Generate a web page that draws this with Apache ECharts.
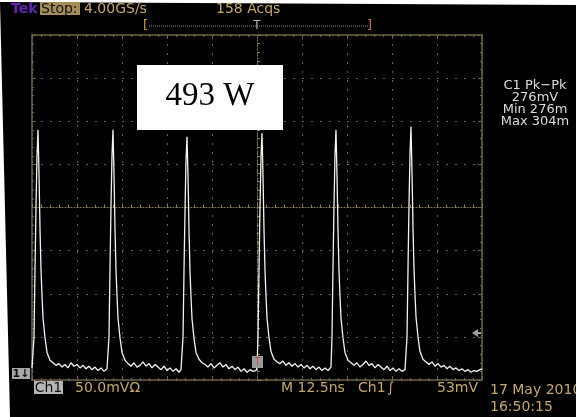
<!DOCTYPE html>
<html lang="en">
<head>
    <meta charset="UTF-8">
    <title>493 W</title>
    <style type="text/css">
        body {
            margin: 0;
            background: #fff;
        }

        #scope {
            width: 576px;
            height: 417px;
        }
    </style>
    <script type="text/javascript" src="https://cdn.jsdelivr.net/npm/echarts@6/dist/echarts.min.js"></script>
</head>
<body>
    <div id="scope"></div>
<script type="text/javascript">
    // trace: time (ns) and Ch1 (mV), 12.5 ns/div, 50 mV/div
    var timeNs = [
        -62.5, -62.22, -61.94, -61.66, -61.39, -61.11, -60.83, -60.55, -60.27, -60.0, -59.72, -59.44, -58.89, -58.33, -57.5, -56.66,
        -55.83, -55.0, -54.17, -53.33, -52.5, -51.67, -50.83, -50.0, -49.17, -48.33, -47.5, -46.67, -45.83, -45.0, -44.17, -43.33, -42.5,
        -41.67, -41.39, -41.11, -40.83, -40.56, -40.28, -40.0, -39.72, -39.44, -39.17, -38.89, -38.61, -38.06, -37.5, -36.67, -35.83,
        -35.0, -34.17, -33.33, -32.5, -31.67, -30.83, -30.0, -29.17, -28.33, -27.5, -26.67, -25.83, -25.0, -24.17, -23.33, -22.5, -21.67,
        -21.11, -20.83, -20.55, -20.27, -20.0, -19.72, -19.44, -19.16, -18.88, -18.61, -18.33, -18.05, -17.5, -16.94, -16.11, -15.27,
        -14.44, -13.61, -12.78, -11.94, -11.11, -10.28, -9.44, -8.61, -7.78, -6.94, -6.11, -5.28, -4.44, -3.61, -2.78, -1.94, -1.11,
        -0.28, 0.0, 0.28, 0.56, 0.83, 1.11, 1.39, 1.67, 1.95, 2.22, 2.5, 2.78, 3.33, 3.89, 4.72, 5.56,
        6.39, 7.22, 8.06, 8.89, 9.72, 10.56, 11.39, 12.22, 13.06, 13.89, 14.72, 15.56, 16.39, 17.22, 18.06, 18.89, 19.72,
        20.27, 20.55, 20.83, 21.11, 21.38, 21.66, 21.94, 22.22, 22.5, 22.77, 23.05, 23.33, 23.88, 24.44, 25.27, 26.11,
        26.94, 27.77, 28.61, 29.44, 30.27, 31.11, 31.94, 32.77, 33.61, 34.44, 35.27, 36.11, 36.94, 37.77, 38.61, 39.44, 40.27,
        41.11, 41.39, 41.67, 41.95, 42.22, 42.5, 42.78, 43.06, 43.34, 43.61, 43.89, 44.17, 44.72, 45.28, 46.11, 46.95,
        47.78, 48.61, 49.44, 50.28, 51.11, 51.94, 52.78, 53.61, 54.44, 55.28, 56.11, 56.94, 57.78, 58.61, 59.44, 60.28, 61.11, 61.94, 62.5
    ];
    var voltMv = [
        -186, -184, -150, -70, 0, 60, 90, 38, -26, -72, -102, -128, -151, -168, -177, -180,
        -183, -181, -185, -182, -186, -180, -184, -182, -186, -183, -187, -184, -188, -185, -189, -186, -190,
        -187, -185, -150, -70, 0, 60, 90, 38, -26, -72, -102, -128, -151, -168, -177, -181,
        -184, -180, -185, -183, -179, -184, -181, -186, -182, -185, -188, -184, -189, -186, -190, -187, -191,
        -188, -186, -150, -72, -5, 55, 82, 35, -28, -74, -104, -129, -152, -168, -176, -180,
        -182, -185, -181, -186, -183, -180, -185, -182, -187, -184, -188, -185, -190, -187, -191, -188, -190,
        -189, -186, -150, -70, -2, 58, 86, 36, -27, -73, -103, -128, -151, -167, -176, -179,
        -181, -178, -183, -180, -184, -181, -185, -182, -186, -183, -187, -184, -188, -185, -189, -186, -189,
        -187, -185, -150, -70, 0, 60, 90, 38, -26, -72, -102, -128, -151, -168, -177, -180,
        -183, -180, -185, -182, -178, -183, -181, -186, -182, -185, -188, -184, -189, -186, -190, -187, -190,
        -188, -186, -150, -70, 2, 62, 94, 40, -25, -71, -101, -127, -150, -167, -176, -179,
        -182, -179, -184, -181, -185, -183, -187, -184, -188, -186, -189, -187, -190, -188, -191, -189, -190, -188, -187
    ];
    var measureLines = ['C1 Pk\u2212Pk', '276mV', 'Min 276m', 'Max 304m'];
    var powerLabel = '493 W';

    var tan = '#c6a866';
    var frame = '#6e6446';
    var font = 'DejaVu Sans';

    var points = [];
    for (var i = 0; i < timeNs.length; i++) {
        points.push([timeNs[i], voltMv[i]]);
    }

    function txt(x, y, s, color, size, align, weight) {
        return {
            type: 'text', x: x, y: y, z: 50,
            style: {
                text: s, fill: color, align: align || 'left', verticalAlign: 'middle',
                font: (weight || 'normal') + ' ' + size + 'px "' + font + '"'
            }
        };
    }

    function borderAxis(pos, isX) {
        var a = {
            gridIndex: 0, type: 'value', position: pos,
            min: isX ? -62.5 : -200, max: isX ? 62.5 : 200, interval: isX ? 12.5 : 50,
            axisLine: { show: true, onZero: false, lineStyle: { color: frame, width: 1.5 } },
            axisTick: { show: true, inside: true, length: 4, lineStyle: { color: frame } },
            minorTick: { show: true, splitNumber: 5, length: 2, lineStyle: { color: frame } },
            axisLabel: { show: false },
            splitLine: { show: false }
        };
        return a;
    }

    var centerX = {
        gridIndex: 1, type: 'value', min: -62.5, max: 62.5, interval: 12.5,
        axisLine: { show: true, onZero: true, lineStyle: { color: '#8c7c52', type: [1, 2] } },
        axisTick: { show: true, inside: true, length: 4, lineStyle: { color: '#8c7c52' } },
        minorTick: { show: true, splitNumber: 5, length: 3, lineStyle: { color: '#8c7c52' } },
        axisLabel: { show: false },
        splitLine: { show: true, lineStyle: { color: '#5e5e5e', type: [2, 7] } }
    };
    var centerY = {
        gridIndex: 1, type: 'value', min: -200, max: 200, interval: 50,
        axisLine: { show: true, onZero: true, lineStyle: { color: '#8c7c52', type: [1, 2] } },
        axisTick: { show: true, inside: true, length: 4, lineStyle: { color: '#8c7c52' } },
        minorTick: { show: true, splitNumber: 5, length: 3, lineStyle: { color: '#8c7c52' } },
        axisLabel: { show: false },
        splitLine: { show: true, lineStyle: { color: '#5e5e5e', type: [2, 7] } }
    };

    var chart = echarts.init(document.getElementById('scope'));
    var option = {
        animation: false,
        backgroundColor: '#000',
        grid: [
            { left: 32, top: 35, width: 450, height: 345 },
            { left: 32, top: 35, width: 450, height: 345 }
        ],
        xAxis: [borderAxis('bottom', true), borderAxis('top', true), centerX],
        yAxis: [borderAxis('left', false), borderAxis('right', false), centerY],
        series: [{
            type: 'line',
            xAxisIndex: 2,
            yAxisIndex: 2,
            data: points,
            showSymbol: false,
            lineStyle: { color: '#f2f2f2', width: 1.3 },
            z: 5
        }],
        graphic: [
            // white edges of the photo
            { type: 'polygon', z: 30, shape: { points: [[0, 0], [576, 0], [576, 5], [0, 2]] }, style: { fill: '#fff' } },
            { type: 'polygon', z: 30, shape: { points: [[0, 2], [10, 417], [0, 417]] }, style: { fill: '#fff' } },

            // top status line
            txt(11, 9, 'Tek', '#6424b0', 14, 'left', 'bold'),
            { type: 'rect', z: 40, shape: { x: 40, y: 2, width: 40, height: 13 }, style: { fill: '#a48d58' } },
            txt(41, 9, 'Stop:', '#111', 14),
            txt(84, 9, '4.00GS/s', tan, 14),
            txt(216, 9, '158 Acqs', tan, 14),

            // record bar
            { type: 'line', z: 40, shape: { x1: 149, y1: 26, x2: 368, y2: 26 }, style: { stroke: '#8a8a8a', lineWidth: 1, lineDash: [1, 1] } },
            txt(143, 26, '[', '#d89a40', 13),
            txt(257, 26, 'T', '#b0b0b0', 12, 'center'),
            txt(367, 26, ']', '#c87060', 13),

            // power label
            { type: 'rect', z: 40, shape: { x: 137, y: 65, width: 146, height: 65 }, style: { fill: '#fff' } },
            {
                type: 'text', x: 210, y: 96, z: 50,
                style: { text: powerLabel, fill: '#000', align: 'center', verticalAlign: 'middle', font: '33px "Liberation Serif"' }
            },

            // measurements
            txt(535, 86, measureLines[0], '#dcdcdc', 13, 'center'),
            txt(535, 98, measureLines[1], '#dcdcdc', 13, 'center'),
            txt(535, 110, measureLines[2], '#dcdcdc', 13, 'center'),
            txt(535, 122, measureLines[3], '#dcdcdc', 13, 'center'),

            // channel marker, trigger markers
            { type: 'rect', z: 40, shape: { x: 12, y: 368, width: 18, height: 11 }, style: { fill: '#a8a8a8' } },
            txt(21, 374, '1\u2193', '#111', 11, 'center', 'bold'),
            { type: 'polygon', z: 40, shape: { points: [[472, 333], [478, 329], [478, 337]] }, style: { fill: '#a0a0a0' } },
            { type: 'rect', z: 40, shape: { x: 477, y: 332, width: 4, height: 2 }, style: { fill: '#a0a0a0' } },
            { type: 'rect', z: 40, shape: { x: 252, y: 356, width: 11, height: 12 }, style: { fill: '#9a9a9a' } },
            txt(257.5, 362, 'T', '#c05040', 10, 'center'),

            // bottom status line
            { type: 'rect', z: 40, shape: { x: 34, y: 381, width: 29, height: 13 }, style: { fill: '#b5b5b5' } },
            txt(48.5, 388, 'Ch1', '#111', 14, 'center'),
            txt(75, 388, '50.0mV\u03A9', tan, 14),
            txt(281, 388, 'M 12.5ns', tan, 14),
            txt(358, 388, 'Ch1', tan, 14),
            txt(387, 388, '\u222B', tan, 14),
            txt(478, 388, '53mV', tan, 14, 'right'),
            txt(490, 390, '17 May 2010', tan, 14),
            txt(490, 407, '16:50:15', tan, 14)
        ]
    };
    chart.setOption(option);
</script>
</body>
</html>
